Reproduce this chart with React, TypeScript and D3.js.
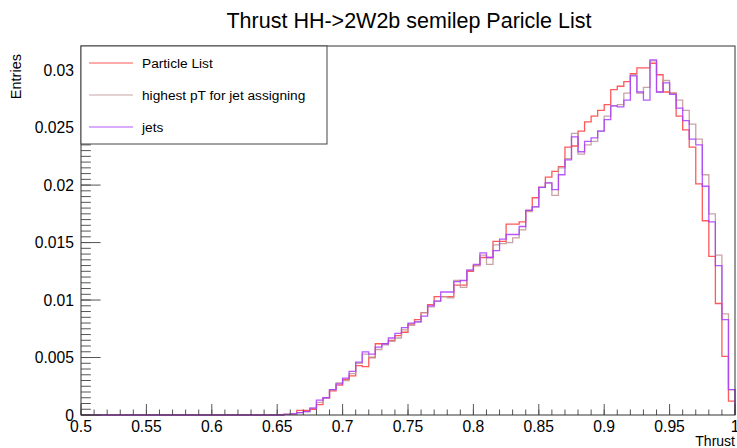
import * as d3 from "d3";

// histogram bins: 100 bins from 0.5 to 1.0
const binLow = 0.5;
const binHigh = 1.0;

const particleList = [
  0, 0, 0, 0, 0, 0, 0, 0, 0, 0, 0, 0, 0, 0, 0, 0, 0, 0, 0, 0, 0, 0, 0, 0, 0, 0, 0, 0, 0, 0, 0,
  0.00005, 0.0001, 0.0004, 0.0004, 0.0005, 0.0009, 0.0015, 0.0021, 0.0026, 0.0031,
  0.0034, 0.0043, 0.0042, 0.005, 0.0062, 0.0062, 0.0065, 0.0069, 0.0072, 0.0079,
  0.0083, 0.0089, 0.0096, 0.0103, 0.0103, 0.0103, 0.0113, 0.0113, 0.0125, 0.013,
  0.0137, 0.0137, 0.0151, 0.0151, 0.0166, 0.0166, 0.0168, 0.0178, 0.0189, 0.0198,
  0.0207, 0.0212, 0.0216, 0.0233, 0.0234, 0.0247, 0.0255, 0.026, 0.0265, 0.027,
  0.0283, 0.0286, 0.029, 0.0297, 0.0302, 0.0302, 0.0306, 0.0296, 0.0281, 0.028,
  0.026, 0.0248, 0.0233, 0.0201, 0.0169, 0.0138, 0.0097, 0.0051, 0.0012,
];

const highestPt = [
  0, 0, 0, 0, 0, 0, 0, 0, 0, 0, 0, 0, 0, 0, 0, 0, 0, 0, 0, 0, 0, 0, 0, 0, 0, 0, 0, 0, 0, 0, 0,
  0.00005, 0.0001, 0.0002, 0.0003, 0.0006, 0.0011, 0.0015, 0.0022, 0.0028, 0.003,
  0.0036, 0.0045, 0.0053, 0.005, 0.0057, 0.0061, 0.0064, 0.0067, 0.0074, 0.0078,
  0.0081, 0.0089, 0.0094, 0.0099, 0.0103, 0.0102, 0.0117, 0.0111, 0.0126, 0.013,
  0.0139, 0.0131, 0.0148, 0.0149, 0.015, 0.0154, 0.0161, 0.0177, 0.0181, 0.0198,
  0.0202, 0.0191, 0.0215, 0.0223, 0.0245, 0.0227, 0.0235, 0.0238, 0.0247, 0.026,
  0.0269, 0.027, 0.028, 0.0296, 0.028, 0.0285, 0.0308, 0.0281, 0.0291, 0.028,
  0.0274, 0.0265, 0.0253, 0.024, 0.0209, 0.0175, 0.0139, 0.0088, 0.0022,
];

const jets = [
  0, 0, 0, 0, 0, 0, 0, 0, 0, 0, 0, 0, 0, 0, 0, 0, 0, 0, 0, 0, 0, 0, 0, 0, 0, 0, 0, 0, 0, 0, 0,
  0.00005, 0.0001, 0.0002, 0.0003, 0.0006, 0.0013, 0.0015, 0.0022, 0.0027, 0.0032,
  0.0038, 0.0046, 0.0055, 0.0053, 0.0059, 0.0062, 0.0067, 0.0071, 0.0076, 0.008,
  0.0081, 0.0086, 0.0095, 0.0099, 0.0107, 0.0107, 0.0116, 0.0117, 0.0126, 0.0131,
  0.0141, 0.0137, 0.0143, 0.0153, 0.0157, 0.0157, 0.0164, 0.0178, 0.0181, 0.0198,
  0.0202, 0.0196, 0.0209, 0.0222, 0.0242, 0.0229, 0.0238, 0.0241, 0.0247, 0.0257,
  0.0269, 0.0268, 0.0274, 0.0295, 0.0281, 0.0274, 0.0309, 0.0281, 0.0289, 0.0279,
  0.0267, 0.0256, 0.024, 0.0235, 0.0199, 0.0168, 0.013, 0.0083, 0.0022,
];

const seriesNames = ["Particle List", "highest pT for jet assigning", "jets"];
const seriesColors = ["#ff3c3c", "#bf9494", "#a83cff"];
const seriesData = [particleList, highestPt, jets];

const xTickValues = [0.5, 0.55, 0.6, 0.65, 0.7, 0.75, 0.8, 0.85, 0.9, 0.95, 1];
const xTickLabels = ["0.5", "0.55", "0.6", "0.65", "0.7", "0.75", "0.8", "0.85", "0.9", "0.95", "1"];
const yTickValues = [0, 0.005, 0.01, 0.015, 0.02, 0.025, 0.03];
const yTickLabels = ["0", "0.005", "0.01", "0.015", "0.02", "0.025", "0.03"];

const title = "Thrust HH->2W2b semilep Paricle List";
const xTitle = "Thrust";
const yTitle = "Entries";

const font = "'Liberation Sans', Arial, Helvetica, sans-serif";

function histPath(values: number[], x: any, y: any) {
  const n = values.length;
  const w = (binHigh - binLow) / n;
  const pts: [number, number][] = values.map((v, i) => [binLow + i * w, v]);
  pts.push([binHigh, values[n - 1]]);
  pts.push([binHigh, 0]);
  const line = d3
    .line<[number, number]>()
    .x((d) => x(d[0]))
    .y((d) => y(d[1]))
    .curve(d3.curveStepAfter);
  return line(pts) || "";
}

export default function App() {
  const width = 737;
  const height = 448;
  const margin = { top: 46, right: 2, bottom: 33, left: 81 };

  const x = d3.scaleLinear().domain([binLow, binHigh]).range([margin.left, width - margin.right]);
  const y = d3.scaleLinear().domain([0, 0.0321]).range([height - margin.bottom, margin.top]);

  const x0 = margin.left;
  const x1 = width - margin.right;
  const y0 = height - margin.bottom;
  const y1 = margin.top;

  const xMinor = d3.range(0.5, 1.0001, 0.01);
  const yMinor = d3.range(0, 0.0321, 0.0005);

  const legend = { x: 81, y: 46, w: 246, h: 98 };

  return (
    <svg
      width={width}
      height={height}
      style={{ position: "absolute", left: 0, top: 0, background: "#fff" }}
      fontFamily={font}
    >
      <rect x={0} y={0} width={width} height={height} fill="#fff" />

      {/* histograms */}
      <g fill="none" strokeWidth={1.3} strokeOpacity={0.85}>
        {seriesData.map((vals, k) => (
          <path key={k} d={histPath(vals, x, y)} stroke={seriesColors[k]} />
        ))}
      </g>

      {/* ticks */}
      <g stroke="#555" strokeWidth={1}>
        {xMinor.map((t, i) => (
          <line key={"xm" + i} x1={x(t)} x2={x(t)} y1={y0} y2={y0 - 5.5} />
        ))}
        {xTickValues.map((t, i) => (
          <line key={"xM" + i} x1={x(t)} x2={x(t)} y1={y0} y2={y0 - 11} />
        ))}
        {yMinor.map((t, i) => (
          <line key={"ym" + i} x1={x0} x2={x0 + 9.8} y1={y(t)} y2={y(t)} />
        ))}
        {yTickValues.map((t, i) => (
          <line key={"yM" + i} x1={x0} x2={x0 + 19.6} y1={y(t)} y2={y(t)} />
        ))}
      </g>

      {/* frame */}
      <rect x={x0} y={y1} width={x1 - x0} height={y0 - y1} fill="none" stroke="#333" strokeWidth={1} />

      {/* tick labels */}
      <g fontSize={15.7} fill="#000">
        {xTickValues.map((t, i) => (
          <text key={"xl" + i} x={x(t)} y={y0 + 16.5} textAnchor="middle">
            {xTickLabels[i]}
          </text>
        ))}
        {yTickValues.map((t, i) => (
          <text key={"yl" + i} x={x0 - 7} y={y(t) + 5.5} textAnchor="end">
            {yTickLabels[i]}
          </text>
        ))}
      </g>

      {/* axis titles */}
      <text x={x1} y={446} fontSize={14} textAnchor="end">
        {xTitle}
      </text>
      <text transform={`translate(21, 54) rotate(-90)`} fontSize={14.5} textAnchor="end">
        {yTitle}
      </text>

      {/* title */}
      <text x={409} y={28} fontSize={21.5} textAnchor="middle">
        {title}
      </text>

      {/* legend */}
      <rect x={legend.x} y={legend.y} width={legend.w} height={legend.h} fill="#fff" stroke="#444" strokeWidth={1} />
      {seriesNames.map((name, k) => {
        const cy = legend.y + 17 + k * 32;
        return (
          <g key={"lg" + k}>
            <line x1={89} x2={133} y1={cy} y2={cy} stroke={seriesColors[k]} strokeWidth={1.2} strokeOpacity={0.85} />
            <text x={142} y={cy + 5} fontSize={13.7}>
              {name}
            </text>
          </g>
        );
      })}
    </svg>
  );
}
